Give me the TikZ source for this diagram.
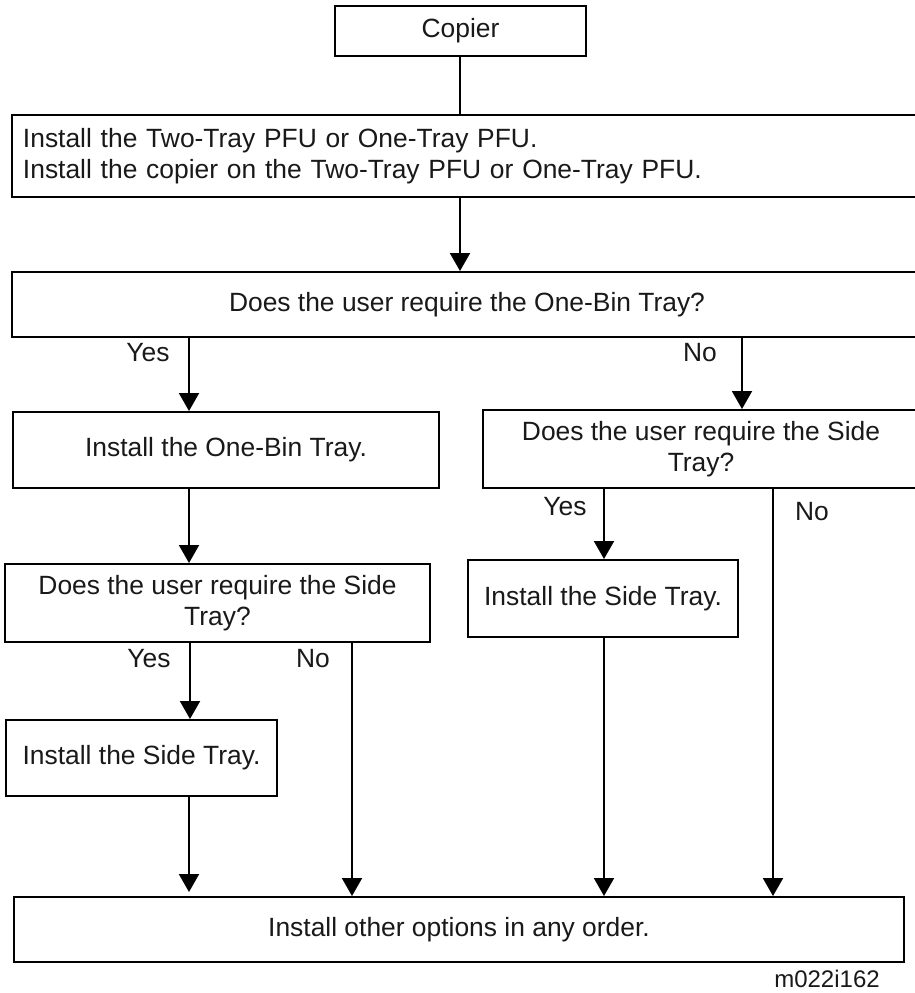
\documentclass[tikz,border=0pt]{standalone}
\usepackage{fontspec}
\setmainfont{Liberation Sans}
\usetikzlibrary{arrows.meta}
\begin{document}
\begin{tikzpicture}[x=1pt,y=-1pt,
  box/.style={draw=black,line width=2pt,inner sep=0pt,font=\fontsize{26.4}{31}\selectfont,text=black!90},
  lbl/.style={font=\fontsize{26.4}{31}\selectfont,text=black!90,inner sep=0pt},
  arr/.style={line width=2pt,-{Triangle[length=18pt,width=20pt]}},
  ln/.style={line width=2pt}]
\useasboundingbox (0,0) rectangle (915,993);
\fill[white] (0,0) rectangle (915,993);
\node[box,minimum width=251pt,minimum height=50pt] (copier) at (460.5,31) {Copier};
\node[box,minimum width=910pt,minimum height=82pt,text width=888pt,align=left] (install) at (467,156)
  {Install the Two-Tray PFU or One-Tray PFU.\\Install the copier on the Two-Tray PFU or One-Tray PFU.};
\node[box,minimum width=910pt,minimum height=65pt] (q1) at (467,304.5) {Does the user require the One-Bin Tray?};
\node[box,minimum width=426pt,minimum height=76pt] (onebin) at (226,450) {Install the One-Bin Tray.};
\node[box,minimum width=436pt,minimum height=78pt,align=center] (qR) at (701,449) {Does the user require the Side\\Tray?};
\node[box,minimum width=425pt,minimum height=78pt,align=center] (qL) at (217.5,603) {Does the user require the Side\\Tray?};
\node[box,minimum width=270pt,minimum height=77pt] (sideR) at (603,598.5) {Install the Side Tray.};
\node[box,minimum width=271pt,minimum height=76pt] (sideL) at (141.5,758) {Install the Side Tray.};
\node[box,minimum width=890pt,minimum height=65pt] (other) at (459,929.5) {Install other options in any order.};
\node[lbl,font=\fontsize{24}{28}\selectfont] (code) at (827,979) {m022i162};
% vertical guide coordinates
\coordinate (xm) at (460,0);
\coordinate (xa) at (189,0);
\coordinate (xb) at (742,0);
\coordinate (xc) at (190,0);
\coordinate (xd) at (352,0);
\coordinate (xe) at (604,0);
\coordinate (xf) at (773,0);
\coordinate (stopL) at (189,892);
% connectors
\draw[ln] (copier.south -| xm) -- (install.north -| xm);
\draw[arr] (install.south -| xm) -- (q1.north -| xm);
\draw[arr] (q1.south -| xa) -- (onebin.north -| xa);
\draw[arr] (q1.south -| xb) -- (qR.north -| xb);
\draw[arr] (onebin.south -| xa) -- (qL.north -| xa);
\draw[arr] (qL.south -| xc) -- (sideL.north -| xc);
\draw[arr] (qL.south -| xd) -- (other.north -| xd);
\draw[arr] (sideL.south -| xa) -- (stopL);
\draw[arr] (qR.south -| xe) -- (sideR.north -| xe);
\draw[arr] (sideR.south -| xe) -- (other.north -| xe);
\draw[arr] (qR.south -| xf) -- (other.north -| xf);
% labels
\node[lbl] (y1) at (148,353) {Yes};
\node[lbl] (n1) at (700,353) {No};
\node[lbl] (y2) at (565,507) {Yes};
\node[lbl] (n2) at (812,512) {No};
\node[lbl] (y3) at (149,659) {Yes};
\node[lbl] (n3) at (313,659) {No};
\end{tikzpicture}
\end{document}
